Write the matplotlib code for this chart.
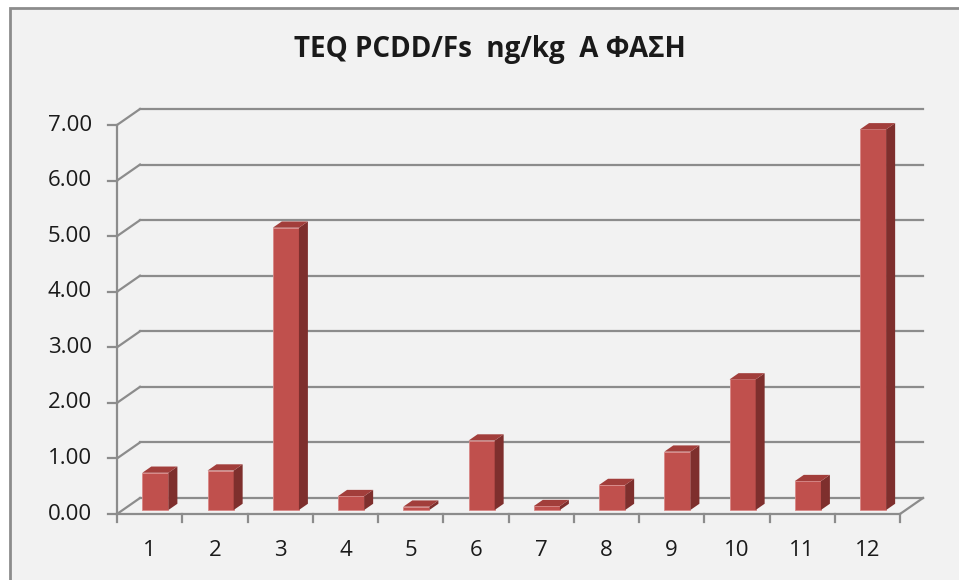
import numpy as np
import matplotlib
matplotlib.use("Agg")
import matplotlib.pyplot as plt
from matplotlib.patches import Polygon, Rectangle

# ---------------- data ----------------
categories = ["1", "2", "3", "4", "5", "6", "7", "8", "9", "10", "11", "12"]
values = [0.67, 0.71, 5.08, 0.25, 0.06, 1.25, 0.07, 0.45, 1.05, 2.35, 0.52, 6.85]
yticks = [0, 1, 2, 3, 4, 5, 6, 7]
title = "TEQ PCDD/Fs  ng/kg  A ΦΑΣΗ"

# ---------------- style ----------------
plt.rcParams['font.family'] = ['Open Sans', 'DejaVu Sans']
front_col = '#C0504D'
top_col = '#A23E3B'
side_col = '#7E2F2D'
line_col = '#8C8C8C'
txt_col = '#1a1a1a'

W, H = 959, 580
fig = plt.figure(figsize=(W / 100, H / 100), dpi=100, facecolor='white')

# chart area with grey border (right/bottom edges fall outside the picture)
fig.patches.append(Rectangle((10 / W, -0.1), 1.2, 1.1 - 8 / H, transform=fig.transFigure,
                             facecolor='#F2F2F2', edgecolor=line_col, lw=2, zorder=-5))

ax = fig.add_axes([0, 0, 1, 1])
ax.set_facecolor('none')
ax.axis('off')

# map data units onto the pixel layout of the reference
px_cat = 65.25      # pixels per category
px_val = 55.57      # pixels per unit of value
x0_px, y0_px = 117, 514
ax.set_xlim(0.5 - x0_px / px_cat, 0.5 + (W - x0_px) / px_cat)
ax.set_ylim(-(H - y0_px) / px_val, 7 + (y0_px - 7 * px_val) / px_val)

DX = 23 / px_cat    # depth offset of the back wall
DY = 16 / px_val
n = len(categories)
xs = np.arange(1, n + 1)
left, right = 0.5, n + 0.5
lw = 1.6

# back wall gridlines, side-wall diagonals, y ticks
for k in yticks:
    ax.plot([left + DX, right + DX], [k + DY, k + DY], color=line_col, lw=lw, zorder=1)
    ax.plot([left, left + DX], [k, k + DY], color=line_col, lw=lw, zorder=1)
    ax.plot([left - 9 / px_cat, left], [k, k], color=line_col, lw=lw, zorder=1)
    ax.text(left - 25 / px_cat, k, "%.2f" % k, ha='right', va='center',
            fontsize=16, color=txt_col)

# front axis + floor
ax.plot([left, left], [0, yticks[-1]], color=line_col, lw=lw, zorder=1)
ax.plot([right, right + DX], [0, DY], color=line_col, lw=lw, zorder=1)

# bars: front faces via ax.bar, then top and side faces
f0, f1 = 0.25, 0.64
bw = 0.4
ax.bar(xs + f0 * DX, values, width=bw, bottom=f0 * DY, color=front_col,
       edgecolor='#D98886', linewidth=0.6, zorder=3)
for x, v in zip(xs, values):
    xl = x - bw / 2
    xr = x + bw / 2
    side = [(xr + f0 * DX, f0 * DY), (xr + f1 * DX, f1 * DY),
            (xr + f1 * DX, v + f1 * DY), (xr + f0 * DX, v + f0 * DY)]
    top = [(xl + f0 * DX, v + f0 * DY), (xr + f0 * DX, v + f0 * DY),
           (xr + f1 * DX, v + f1 * DY), (xl + f1 * DX, v + f1 * DY)]
    ax.add_patch(Polygon(side, closed=True, facecolor=side_col, edgecolor='none', zorder=3))
    ax.add_patch(Polygon(top, closed=True, facecolor=top_col, edgecolor='none', zorder=3))

# front floor edge and x ticks
ax.plot([left, right], [0, 0], color=line_col, lw=lw, zorder=4)
for b in np.arange(left, right + 0.01, 1.0):
    ax.plot([b, b], [0, -8 / px_val], color=line_col, lw=lw, zorder=4)
for x, lab in zip(xs, categories):
    ax.text(x, -36 / px_val, lab, ha='center', va='center', fontsize=16, color=txt_col)

fig.text(490 / W, 1 - 49 / H, title, ha='center', va='center', fontsize=20,
         fontweight='bold', color=txt_col)

plt.savefig("out.png", dpi=100, facecolor=fig.get_facecolor())
